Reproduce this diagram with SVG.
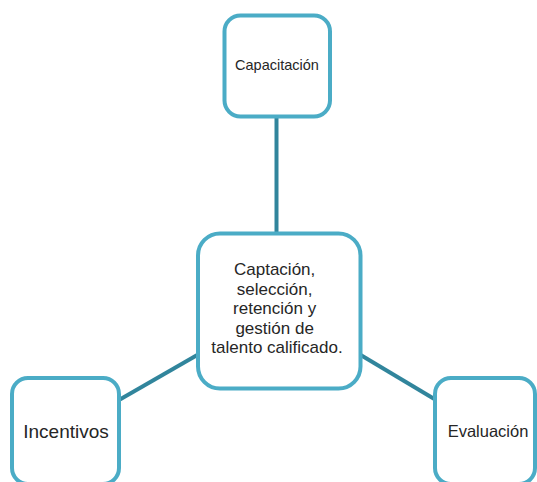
<svg xmlns="http://www.w3.org/2000/svg" width="537" height="482" viewBox="0 0 537 482">
  <style>
    .box { fill: #ffffff; stroke: #4bacc6; stroke-width: 4; }
    .link { stroke: #31859c; stroke-width: 4; fill: none; }
    .label { font-family: "Liberation Sans", Arial, sans-serif; fill: #262626; text-anchor: middle; }
  </style>
  <rect width="537" height="482" fill="#ffffff"/>
  <g id="connectors">
    <line class="link" x1="276.5" y1="116" x2="276.5" y2="234"/>
    <line class="link" x1="119" y1="400" x2="199" y2="354"/>
    <line class="link" x1="359" y1="354" x2="436" y2="400"/>
  </g>
  <g id="node-capacitacion">
    <rect class="box" x="224.5" y="15.5" width="105.5" height="101" rx="16"/>
    <text class="label" x="277" y="70" font-size="14.5">Capacitación</text>
  </g>
  <g id="node-central">
    <rect class="box" x="198" y="233.5" width="162.5" height="155" rx="22"/>
    <text class="label" font-size="17">
      <tspan x="277" y="275">Captación,</tspan>
      <tspan x="277" y="294.5">selección,</tspan>
      <tspan x="277" y="314">retención y</tspan>
      <tspan x="277" y="333.5">gestión de</tspan>
      <tspan x="277" y="353">talento calificado.</tspan>
    </text>
  </g>
  <g id="node-incentivos">
    <rect class="box" x="12" y="378" width="107" height="106" rx="16"/>
    <text class="label" x="66" y="438" font-size="19">Incentivos</text>
  </g>
  <g id="node-evaluacion">
    <rect class="box" x="435" y="378" width="100" height="106" rx="16"/>
    <text class="label" x="488" y="437" font-size="16.5">Evaluación</text>
  </g>
</svg>
